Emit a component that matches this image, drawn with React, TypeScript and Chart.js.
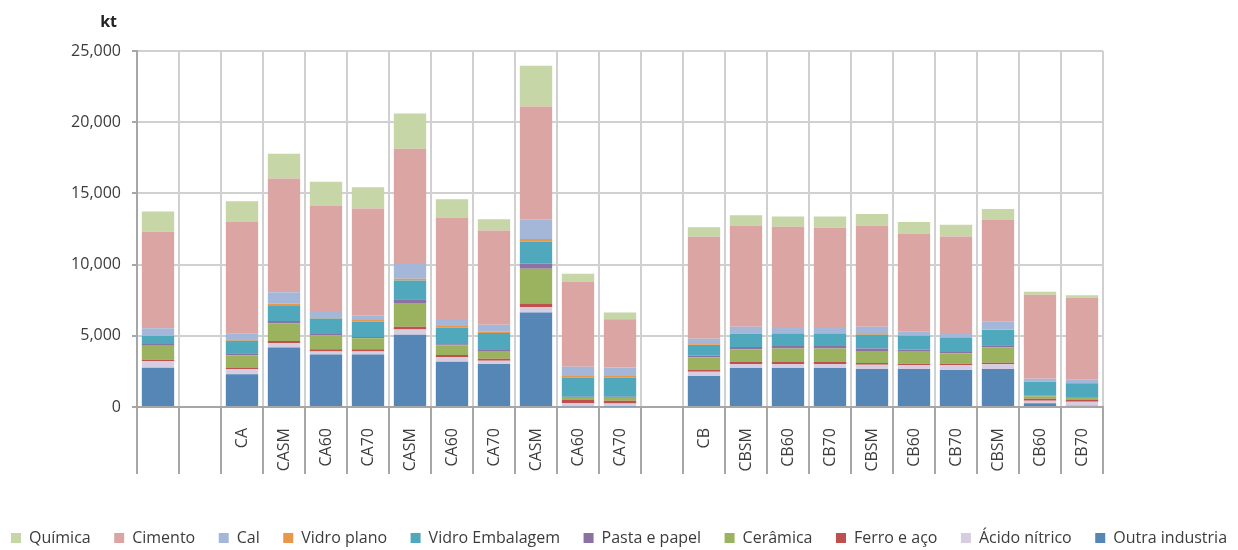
import { useEffect, useRef } from 'react';
import { Chart, registerables } from 'chart.js';

Chart.register(...registerables);

// Category labels (empty strings are unlabeled slots)
const categories = [
  '', '', 'CA', 'CASM', 'CA60', 'CA70', 'CASM', 'CA60', 'CA70', 'CASM', 'CA60', 'CA70',
  '', 'CB', 'CBSM', 'CB60', 'CB70', 'CBSM', 'CB60', 'CB70', 'CBSM', 'CB60', 'CB70',
];

// Emissions by sector, kt
const outraIndustria = [2760, null, 2300, 4170, 3680, 3680, 5080, 3180, 3020, 6630, 60, 40, null, 2180, 2740, 2740, 2740, 2670, 2670, 2600, 2670, 260, 80];
const acidoNitrico = [470, null, 350, 330, 210, 210, 370, 310, 230, 400, 220, 200, null, 300, 280, 280, 280, 300, 260, 330, 330, 180, 280];
const ferroEAco = [90, null, 90, 140, 160, 160, 190, 160, 140, 230, 210, 200, null, 120, 140, 140, 140, 120, 110, 110, 110, 140, 140];
const ceramica = [990, null, 890, 1220, 990, 780, 1670, 680, 550, 2440, 160, 210, null, 890, 890, 940, 940, 850, 900, 730, 1060, 170, 150];
const pastaEPapel = [120, null, 140, 180, 90, 90, 260, 70, 60, 370, 70, 70, null, 120, 170, 190, 190, 160, 90, 90, 160, 50, 50];
const vidroEmbalagem = [560, null, 890, 1100, 1080, 1070, 1310, 1170, 1200, 1550, 1340, 1340, null, 750, 910, 860, 860, 980, 960, 1010, 1080, 980, 960];
const vidroPlano = [20, null, 100, 120, 90, 120, 120, 120, 110, 170, 120, 120, null, 40, 50, 50, 50, 40, 40, 50, 40, 30, 30];
const cal = [520, null, 420, 800, 380, 330, 1050, 490, 470, 1400, 650, 600, null, 400, 460, 350, 350, 520, 260, 210, 540, 180, 230];
const cimento = [6770, null, 7840, 7980, 7470, 7500, 8080, 7120, 6610, 7910, 5980, 3380, null, 7150, 7100, 7100, 7030, 7100, 6890, 6840, 7170, 5900, 5760];
const quimica = [1430, null, 1430, 1740, 1660, 1500, 2480, 1290, 800, 2870, 540, 470, null, 680, 730, 720, 790, 820, 820, 820, 750, 210, 160];

// Y axis range
const yMin = 0;
const yMax = 25000;
const yStep = 5000;
const unitLabel = 'kt';

// Stack order, bottom to top
const series = [
  { label: 'Outra industria', data: outraIndustria, color: '#5586b6' },
  { label: 'Ácido nítrico', data: acidoNitrico, color: '#d6cde1' },
  { label: 'Ferro e aço', data: ferroEAco, color: '#c0504d' },
  { label: 'Cerâmica', data: ceramica, color: '#9bb35f' },
  { label: 'Pasta e papel', data: pastaEPapel, color: '#8a72a2' },
  { label: 'Vidro Embalagem', data: vidroEmbalagem, color: '#50a8bd' },
  { label: 'Vidro plano', data: vidroPlano, color: '#e9974a' },
  { label: 'Cal', data: cal, color: '#a4b7d8' },
  { label: 'Cimento', data: cimento, color: '#dba5a3' },
  { label: 'Química', data: quimica, color: '#c6d6a7' },
];

const FONT = '"Open Sans", "Noto Sans", sans-serif';
const TEXT = '#3c3c3c';
const GRID = '#d0d0d0';
const AXIS = '#a6a6a6';

// Divider lines between categories, continued below the x axis
const dividerPlugin = {
  id: 'categoryDividers',
  afterDraw(chart: any) {
    const x = chart.scales.x;
    const { bottom } = chart.chartArea;
    const ctx = chart.ctx;
    ctx.save();
    ctx.strokeStyle = AXIS;
    ctx.lineWidth = 2;
    ctx.beginPath();
    for (let i = 0; i <= categories.length; i++) {
      const px = Math.round(x.getPixelForValue(i - 0.5));
      ctx.moveTo(px, bottom);
      ctx.lineTo(px, bottom + 67);
    }
    ctx.stroke();
    ctx.restore();
  },
};

// Unit label above the y axis
const unitPlugin = {
  id: 'unitLabel',
  afterDraw(chart: any) {
    const ctx = chart.ctx;
    ctx.save();
    ctx.font = `bold 16px ${FONT}`;
    ctx.fillStyle = '#222222';
    ctx.textAlign = 'right';
    ctx.textBaseline = 'alphabetic';
    ctx.fillText(unitLabel, chart.chartArea.left - 20, 26.5);
    ctx.restore();
  },
};

export default function App() {
  const ref = useRef<HTMLCanvasElement>(null);

  useEffect(() => {
    const chart = new Chart(ref.current!, {
      type: 'bar',
      data: {
        labels: categories,
        datasets: series.map((s) => ({
          label: s.label,
          data: s.data,
          backgroundColor: s.color,
          borderWidth: 0,
          barPercentage: 0.77,
          categoryPercentage: 1.0,
        })),
      },
      options: {
        responsive: false,
        animation: false,
        devicePixelRatio: 1,
        layout: { padding: { top: 51, left: 0, right: 0, bottom: 0 } },
        plugins: {
          tooltip: { enabled: false },
          legend: {
            position: 'bottom',
            reverse: true,
            labels: {
              boxWidth: 10,
              boxHeight: 10,
              padding: 23.5,
              color: TEXT,
              font: { family: FONT, size: 16 },
            },
          },
        },
        scales: {
          x: {
            stacked: true,
            offset: true,
            grid: { color: GRID, lineWidth: 2, drawTicks: false, offset: true },
            border: { color: AXIS, width: 2 },
            ticks: {
              autoSkip: false,
              minRotation: 90,
              maxRotation: 90,
              padding: 21,
              color: TEXT,
              font: { family: FONT, size: 16 },
            },
            afterFit: (s: any) => {
              s.height = 99.5;
            },
          },
          y: {
            stacked: true,
            min: yMin,
            max: yMax,
            grid: { color: GRID, lineWidth: 2, tickLength: 5, tickColor: AXIS },
            border: { color: AXIS, width: 2 },
            ticks: {
              stepSize: yStep,
              padding: 11,
              color: TEXT,
              font: { family: FONT, size: 16 },
            },
            afterFit: (s: any) => {
              s.width = 158;
            },
          },
          spacer: {
            type: 'linear',
            position: 'right',
            display: true,
            grid: { drawOnChartArea: false, drawTicks: false },
            border: { display: false },
            ticks: { display: false },
            afterFit: (s: any) => {
              s.width = 156;
            },
          },
        },
      },
      plugins: [dividerPlugin, unitPlugin],
    } as any);
    return () => chart.destroy();
  }, []);

  return (
    <div style={{ position: 'absolute', left: 0, top: 0, width: 1238, height: 550, overflow: 'hidden', background: '#ffffff' }}>
      <div style={{ position: 'absolute', left: -21, top: 0, width: 1280, height: 556 }}>
        <canvas ref={ref} width={1280} height={556} />
      </div>
    </div>
  );
}
